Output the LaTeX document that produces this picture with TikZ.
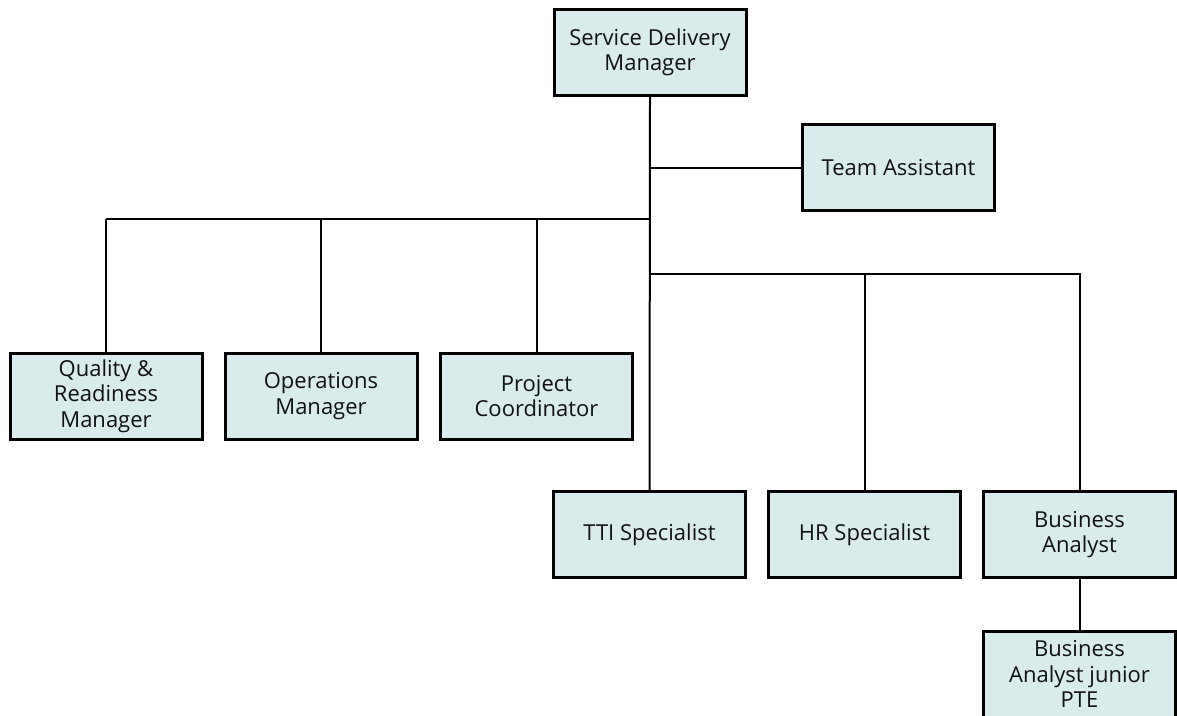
\documentclass[tikz,border=0pt]{standalone}
\usepackage{fontspec}
\setmainfont{Open Sans}
\definecolor{boxfill}{HTML}{DAEBEC}
\definecolor{txt}{HTML}{111111}
\begin{document}
\begin{tikzpicture}[x=1pt,y=-1pt,
  box/.style={draw=black,line width=3pt,fill=boxfill,minimum width=192pt,minimum height=86pt,
    inner sep=0pt,align=center,text=txt,font=\fontsize{22}{25.5}\selectfont},
  conn/.style={draw=black,line width=2pt}]
\useasboundingbox (0,0) rectangle (1177,715);
\clip (0,0) rectangle (1177,715);
\node[box] (sdm) at (650,52.5) {Service Delivery\\Manager};
\node[box] (ta) at (898.5,167.5) {Team Assistant};
\node[box] (qr) at (106,396) {Quality \&\\Readiness\\Manager};
\node[box] (ops) at (321,396) {Operations\\Manager};
\node[box] (pc) at (536.5,396) {Project\\Coordinator};
\node[box] (tti) at (649.5,534.5) {TTI Specialist};
\node[box] (hr) at (864.5,534.5) {HR Specialist};
\node[box] (ba) at (1079.5,534.5) {Business\\Analyst};
\node[box] (baj) at (1079.5,674) {Business\\Analyst junior\\PTE};
\coordinate (lb) at (650,219);
\coordinate (rb) at (650,274);
\path[conn] (sdm.south) -- (tti.north);
\path[conn] (sdm.south |- ta.west) -- (ta.west);
\path[conn] (qr.north |- lb) -- (lb);
\path[conn] (qr.north |- lb) -- (qr.north);
\path[conn] (ops.north |- lb) -- (ops.north);
\path[conn] (pc.north |- lb) -- (pc.north);
\path[conn] (rb) -- (ba.north |- rb) -- (ba.north);
\path[conn] (hr.north |- rb) -- (hr.north);
\path[conn] (ba.south) -- (baj.north);
\end{tikzpicture}
\end{document}
